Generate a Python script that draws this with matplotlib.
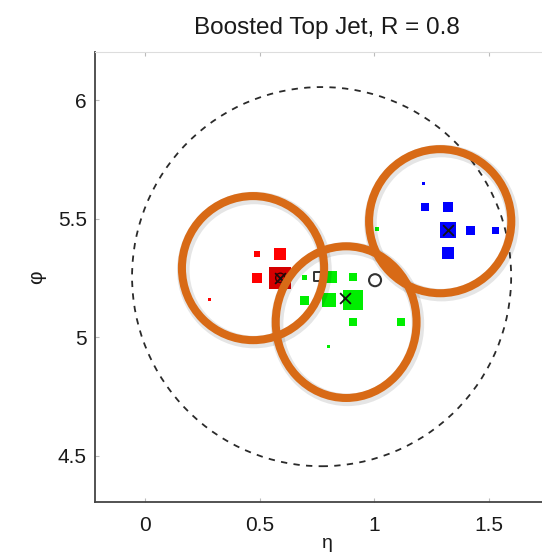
import numpy as np
import matplotlib
matplotlib.use("Agg")
import matplotlib.pyplot as plt
from matplotlib.patches import Ellipse

plt.rcParams['font.family'] = ['Liberation Sans', 'DejaVu Sans']

# ---------------- data ----------------
title = "Boosted Top Jet, R = 0.8"
xticks = [0, 0.5, 1, 1.5]
xtick_labels = ["0", "0.5", "1", "1.5"]
yticks = [4.5, 5, 5.5, 6]
ytick_labels = ["4.5", "5", "5.5", "6"]

# calorimeter cells (eta, phi, pT)
red_eta = [0.49, 0.59, 0.49, 0.59, 0.28]
red_phi = [5.35, 5.35, 5.25, 5.25, 5.16]
red_pt = [1.8, 7.5, 4.8, 24.0, 0.5]

green_eta = [0.697, 0.81, 0.907, 0.697, 0.802, 0.907, 0.907, 1.116, 0.802, 1.011]
green_phi = [5.253, 5.253, 5.253, 5.156, 5.156, 5.156, 5.063, 5.063, 4.962, 5.456]
green_pt = [1.2, 7.5, 3.1, 4.0, 9.5, 19.0, 3.1, 3.1, 0.45, 0.9]

blue_eta = [1.216, 1.22, 1.321, 1.321, 1.421, 1.53, 1.321]
blue_phi = [5.65, 5.549, 5.549, 5.451, 5.451, 5.451, 5.354]
blue_pt = [0.45, 3.1, 4.8, 12.5, 4.0, 2.4, 7.0]

# subjet axes
subjet_eta = [0.59, 0.872, 1.321]
subjet_phi = [5.25, 5.165, 5.451]

# jet axis (open square) and other axis (open circle)
jet_axis_eta, jet_axis_phi = 0.754, 5.257
alt_axis_eta, alt_axis_phi = 1.003, 5.24

# jet cone
jet_center_eta, jet_center_phi, jet_R = 0.77, 5.255, 0.8

# hand-drawn annotation rings (eta, phi, radius in eta, radius in phi)
ring_eta = [0.471, 0.877, 1.287]
ring_phi = [5.291, 5.063, 5.489]
ring_reta = [0.31, 0.307, 0.31]
ring_rphi = [0.304, 0.32, 0.304]

# ---------------- figure ----------------
W, H = 542, 556
fig = plt.figure(figsize=(W / 100, H / 100), dpi=100)
ax_l, ax_r, ax_t, ax_b = 95, 559, 52, 502
ax = fig.add_axes([ax_l / W, 1 - ax_b / H, (ax_r - ax_l) / W, (ax_b - ax_t) / H])
ax.set_xlim(-0.218, 1.805)
ax.set_ylim(4.304, 6.203)

def side_to_s(pt):
    side_px = 4.5 * np.sqrt(np.asarray(pt))
    return (side_px * 0.72) ** 2

# jet cone dashed circle
cone = Ellipse((jet_center_eta, jet_center_phi), 2 * jet_R * 1.033, 2 * jet_R,
               fill=False, ls=(0, (3.5, 3.5)), lw=1.3, ec='#2a2a2a', zorder=2)
ax.add_patch(cone)

# cells
rc = ['#ff0000'] * len(red_eta)
rc[3] = '#d40000'
ax.scatter(red_eta, red_phi, s=side_to_s(red_pt), marker='s', c=rc, lw=0, zorder=3)
ax.scatter(green_eta, green_phi, s=side_to_s(green_pt), marker='s', c='#00ee00', lw=0, zorder=3)
ax.scatter(blue_eta, blue_phi, s=side_to_s(blue_pt), marker='s', c='#0000ff', lw=0, zorder=3)

# axes markers
ax.scatter(subjet_eta, subjet_phi, s=60, marker='x', c='#111111', lw=1.3, zorder=4)
ax.scatter([subjet_eta[0]], [subjet_phi[0]], s=45, marker='o', facecolors='none',
           edgecolors='#330000', lw=1.0, zorder=4)
ax.scatter([jet_axis_eta], [jet_axis_phi], s=40, marker='s', facecolors='none',
           edgecolors='#333333', lw=1.4, zorder=4)
ax.scatter([alt_axis_eta], [alt_axis_phi], s=75, marker='o', facecolors='none',
           edgecolors='#333333', lw=1.5, zorder=4)

# annotation rings with soft shadow
for e, p, re_, rp in zip(ring_eta, ring_phi, ring_reta, ring_rphi):
    sh = Ellipse((e + 0.006, p - 0.008), 2 * re_, 2 * rp, fill=False,
                 lw=9, ec='#000000', alpha=0.10, zorder=5)
    ax.add_patch(sh)
    ring = Ellipse((e, p), 2 * re_, 2 * rp, fill=False, lw=5.8, ec='#d86a16', zorder=6)
    ax.add_patch(ring)

# axes styling
for s in ['left', 'bottom']:
    ax.spines[s].set_color('#444444')
    ax.spines[s].set_linewidth(1.3)
ax.spines['top'].set_color('#dddddd')
ax.spines['top'].set_linewidth(0.8)
ax.spines['right'].set_visible(False)

ax.set_xticks(xticks)
ax.set_xticklabels(xtick_labels)
ax.set_yticks(yticks)
ax.set_yticklabels(ytick_labels)
ax.tick_params(direction='in', length=3, width=0.8, color='#bbbbbb',
               labelsize=15, labelcolor='#1a1a1a', top=True)
ax.tick_params(axis='x', pad=10)
ax.tick_params(axis='y', pad=6)

ax.set_title(title, fontsize=17.5, color='#1a1a1a', pad=13)
ax.set_xlabel('\u03b7', fontsize=14, color='#1a1a1a', labelpad=0)
ax.set_ylabel('\u03c6', fontsize=15, color='#1a1a1a', labelpad=8)

fig.savefig('out.png', dpi=100)
